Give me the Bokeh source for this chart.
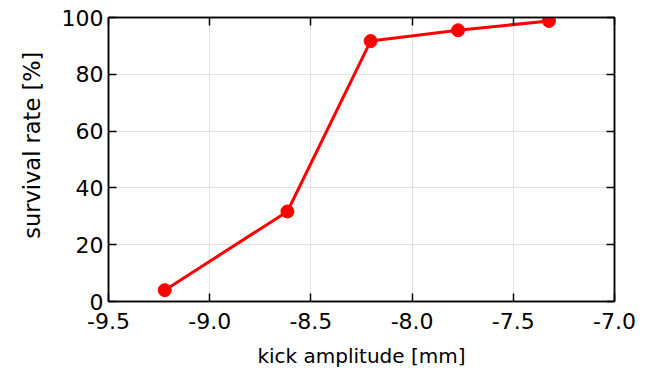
from bokeh.plotting import figure
from bokeh.models import LinearAxis, Range1d, FixedTicker
from bokeh.embed import file_html
from bokeh.resources import INLINE

kick_amplitude = [-9.222, -8.616, -8.205, -7.773, -7.324]
survival_rate = [4.0, 31.7, 91.7, 95.5, 98.8]
x_ticks = [-9.5, -9.0, -8.5, -8.0, -7.5, -7.0]
y_ticks = [0, 20, 40, 60, 80, 100]

FONT = "DejaVu Sans"

p = figure(frame_width=506, frame_height=284, output_backend="svg", toolbar_location=None,
           x_range=Range1d(-9.5, -7.0), y_range=Range1d(0, 100),
           min_border_left=108, min_border_right=26, min_border_top=17, min_border_bottom=66,
           x_axis_label="kick amplitude [mm]",
           y_axis_label="\u00a0\u00a0\u00a0\u00a0survival rate [%]")
p.outline_line_color = "black"
p.outline_line_width = 1.5
p.background_fill_color = "white"
p.border_fill_color = "white"

p.xaxis.ticker = FixedTicker(ticks=x_ticks)
p.yaxis.ticker = FixedTicker(ticks=y_ticks)
p.xaxis.major_label_overrides = {v: f"{v:.1f}" for v in x_ticks}
for ax in (p.xaxis[0], p.yaxis[0]):
    ax.major_tick_in = 8
    ax.major_tick_out = 0
    ax.minor_tick_in = 0
    ax.minor_tick_out = 0
    ax.major_tick_line_color = "black"
    ax.major_tick_line_width = 1.5
    ax.axis_line_color = "black"
    ax.axis_line_width = 1.5
    ax.major_label_text_font = FONT
    ax.major_label_text_font_size = "22px"
    ax.major_label_text_color = "black"
    ax.axis_label_text_font = FONT
    ax.axis_label_text_font_style = "normal"
    ax.axis_label_text_color = "black"
p.xaxis.axis_label_text_font_size = "20px"
p.yaxis.axis_label_text_font_size = "22.5px"
p.xaxis.major_label_standoff = 11
p.yaxis.major_label_standoff = 5
p.xaxis.axis_label_standoff = 12
p.yaxis.axis_label_standoff = 14

for loc, ticks in (("above", x_ticks), ("right", y_ticks)):
    ax = LinearAxis(ticker=FixedTicker(ticks=ticks))
    ax.major_label_overrides = {v: "" for v in ticks}
    ax.major_tick_in = 8
    ax.major_tick_out = 0
    ax.minor_tick_in = 0
    ax.minor_tick_out = 0
    ax.major_tick_line_color = "black"
    ax.major_tick_line_width = 1.5
    ax.axis_line_color = "black"
    ax.axis_line_width = 1.5
    ax.major_label_text_font_size = "1px"
    ax.major_label_standoff = 0
    p.add_layout(ax, loc)

p.xgrid.grid_line_color = "#c4c4c4"
p.ygrid.grid_line_color = "#c4c4c4"
p.xgrid.grid_line_dash = "1 1"
p.ygrid.grid_line_dash = "1 1"
p.xgrid.grid_line_width = 1
p.ygrid.grid_line_width = 1

p.line(kick_amplitude, survival_rate, line_color="#ff0000", line_width=3)
p.scatter(kick_amplitude, survival_rate, size=13, fill_color="#ff0000", line_color="#ff0000")

open("out.html", "w").write(file_html(p, INLINE))
